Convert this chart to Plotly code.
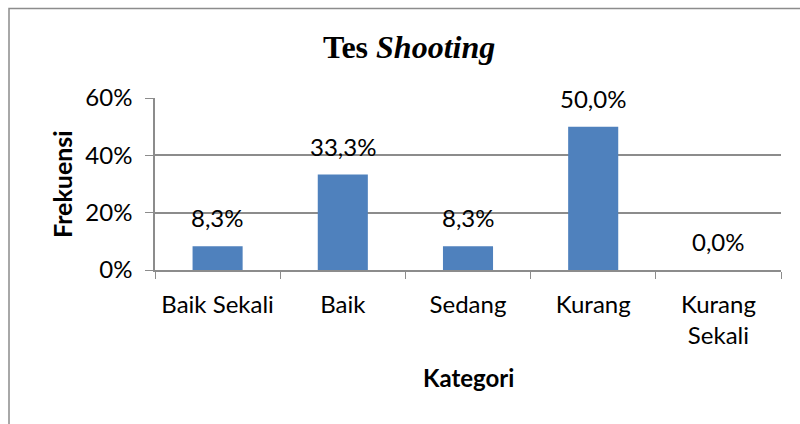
import plotly.graph_objects as go

categories = ["Baik Sekali", "Baik", "Sedang", "Kurang", "Kurang<br>Sekali"]
values = [0.083, 0.333, 0.083, 0.500, 0.000]
labels = ["8,3%", "33,3%", "8,3%", "50,0%", "0,0%"]
y_ticks = [0, 0.2, 0.4, 0.6]
y_ticktext = ["0%", "20%", "40%", "60%"]

W, H = 800, 424
L, R, T, B = 155, 19, 98, 154
pw, ph = W - L - R, H - T - B

FONT = "Lato"
FS = 24
GRAY = "#8c8c8c"

fig = go.Figure()
fig.add_trace(go.Bar(
    x=categories, y=values, marker=dict(color="#4F81BD", line=dict(width=0)),
    width=0.4, hoverinfo="skip",
))

for c, v, t in zip(categories, values, labels):
    fig.add_annotation(x=c, y=v, text=t, showarrow=False, yanchor="bottom",
                       yshift=12, font=dict(family=FONT, size=FS, color="black"))

def px_x(p):
    return (p - L) / pw

def px_y(p):
    return (H - B - p) / ph

# outer chart frame
fig.add_shape(type="rect", xref="paper", yref="paper",
              x0=px_x(9), x1=px_x(806), y0=px_y(430), y1=px_y(8.5),
              line=dict(color=GRAY, width=1.5), fillcolor="rgba(0,0,0,0)", layer="below")

fig.add_annotation(xref="paper", yref="paper", x=px_x(409), y=px_y(47),
                   text="<b>Tes <i>Shooting</i></b>", showarrow=False,
                   xanchor="center", yanchor="middle",
                   font=dict(family="Liberation Serif", size=32, color="black"))
fig.add_annotation(xref="paper", yref="paper", x=px_x(62), y=px_y(184),
                   text="<b>Frekuensi</b>", showarrow=False, textangle=-90,
                   xanchor="center", yanchor="middle",
                   font=dict(family=FONT, size=25, color="black"))
fig.add_annotation(xref="paper", yref="paper", x=px_x(468), y=px_y(377),
                   text="<b>Kategori</b>", showarrow=False,
                   xanchor="center", yanchor="middle",
                   font=dict(family=FONT, size=24, color="black"))

fig.update_layout(
    width=W, height=H, margin=dict(l=L, r=R, t=T, b=B),
    paper_bgcolor="white", plot_bgcolor="white", showlegend=False,
    bargap=0.6,
    xaxis=dict(
        type="category", tickson="boundaries", ticks="outside", ticklen=7,
        tickcolor=GRAY, showline=True, linecolor=GRAY, linewidth=1.5,
        showgrid=False, tickfont=dict(family=FONT, size=FS, color="black"),
        ticklabelstandoff=12, fixedrange=True,
    ),
    yaxis=dict(
        range=[0, 0.6], tickvals=y_ticks, ticktext=y_ticktext,
        ticks="outside", ticklen=8, tickcolor=GRAY, showline=True,
        linecolor=GRAY, linewidth=1.5, showgrid=True, gridcolor=GRAY,
        gridwidth=1.5, zeroline=False, ticklabelstandoff=8,
        tickfont=dict(family=FONT, size=FS, color="black"), fixedrange=True,
    ),
)

fig.write_html("out.html")
